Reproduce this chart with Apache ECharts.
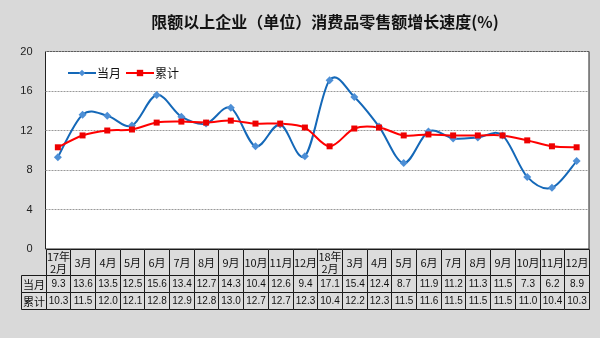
<!DOCTYPE html>
<html>
<head>
<meta charset="utf-8">
<script src="https://cdn.jsdelivr.net/npm/echarts@6/dist/echarts.min.js"></script>
<style>
  html, body { margin: 0; padding: 0; background: #d9d9d9; }
  #chart { width: 600px; height: 338px; }
</style>
</head>
<body>
<div id="chart"></div>
<script>
// Months shown along the x axis / table header
const months = ['17年\n2月', '3月', '4月', '5月', '6月', '7月', '8月', '9月', '10月', '11月', '12月',
                '18年\n2月', '3月', '4月', '5月', '6月', '7月', '8月', '9月', '10月', '11月', '12月'];
// Monthly growth (当月) and cumulative growth (累计), %
const monthly = [9.3, 13.6, 13.5, 12.5, 15.6, 13.4, 12.7, 14.3, 10.4, 12.6, 9.4,
                 17.1, 15.4, 12.4, 8.7, 11.9, 11.2, 11.3, 11.5, 7.3, 6.2, 8.9];
const cumulative = [10.3, 11.5, 12.0, 12.1, 12.8, 12.9, 12.8, 13.0, 12.7, 12.7, 12.3,
                    10.4, 12.2, 12.3, 11.5, 11.6, 11.5, 11.5, 11.5, 11.0, 10.4, 10.3];
const seriesNames = ['当月', '累计'];
const yTicks = { min: 0, max: 20, interval: 4 };

const blue = '#1468b8', blueMarker = '#4d8fd6', red = '#ff0000';

// Data table beneath the plot: header row + one row per series
const tableCols = [''].concat(months);
const tableCells = [];
months.forEach((m, i) => tableCells.push([i + 1, 0, m]));
tableCells.push([0, 1, seriesNames[0]]);
tableCells.push([0, 2, seriesNames[1]]);
monthly.forEach((v, i) => tableCells.push([i + 1, 1, v.toFixed(1)]));
cumulative.forEach((v, i) => tableCells.push([i + 1, 2, v.toFixed(1)]));
const rowEdges = [0, 26, 43, 60];

const cjk = '"Noto Sans CJK SC", "Noto Sans", sans-serif';

// Smooth curve through the points, one cubic segment per item (Catmull-Rom style tangents)
function curveSeries(values, color) {
  const segs = values.slice(0, -1).map((v, i) => [i, v]);
  return {
    type: 'custom', xAxisIndex: 0, yAxisIndex: 0, silent: true, z: 2,
    data: segs,
    encode: { x: 0, y: 1 },
    renderItem: function (params, api) {
      const i = params.dataIndex;
      const n = values.length;
      const p = k => api.coord([Math.max(0, Math.min(n - 1, k)), values[Math.max(0, Math.min(n - 1, k))]]);
      const p0 = p(i - 1), p1 = p(i), p2 = p(i + 1), p3 = p(i + 2);
      return {
        type: 'bezierCurve',
        shape: {
          x1: p1[0], y1: p1[1], x2: p2[0], y2: p2[1],
          cpx1: p1[0] + (p2[0] - p0[0]) / 6, cpy1: p1[1] + (p2[1] - p0[1]) / 6,
          cpx2: p2[0] - (p3[0] - p1[0]) / 6, cpy2: p2[1] - (p3[1] - p1[1]) / 6
        },
        style: { stroke: color, lineWidth: 2, fill: null, lineCap: 'round' }
      };
    }
  };
}

const chart = echarts.init(document.getElementById('chart'));
chart.setOption({
  backgroundColor: '#d9d9d9',
  animation: false,
  title: {
    text: '限额以上企业（单位）消费品零售额增长速度(%)',
    left: 320, top: 9, textAlign: 'center',
    textStyle: { fontFamily: cjk, fontSize: 16, fontWeight: 'bold', color: '#111' }
  },
  legend: {
    left: 67, top: 67, padding: 0,
    itemWidth: 28, itemHeight: 8, itemGap: 4,
    textStyle: { fontFamily: cjk, fontSize: 12, color: '#111', padding: [0, 0, 0, -4] },
    data: [
      { name: seriesNames[0], lineStyle: { color: blue, width: 2, opacity: 1 } },
      { name: seriesNames[1], lineStyle: { color: red, width: 2, opacity: 1 } }
    ]
  },
  grid: [
    { left: 45.5, right: 11, top: 51.5, bottom: 89, show: true, backgroundColor: '#fff',
      borderColor: '#222', borderWidth: 1 },
    { left: 20.8, right: 11, top: 249, height: 60 }
  ],
  xAxis: [
    { type: 'category', data: months, gridIndex: 0, boundaryGap: true,
      axisLine: { show: false }, axisTick: { show: false }, axisLabel: { show: false } },
    { type: 'category', data: tableCols, gridIndex: 1, boundaryGap: true, show: false }
  ],
  yAxis: [
    { type: 'value', gridIndex: 0, min: yTicks.min, max: yTicks.max, interval: yTicks.interval,
      axisLine: { show: false }, axisTick: { show: false },
      axisLabel: { margin: 13, fontSize: 11, color: '#222', fontFamily: 'Liberation Sans, Arial, sans-serif' },
      splitLine: { lineStyle: { color: '#999', type: [2, 1], width: 1 } } },
    { type: 'value', gridIndex: 1, min: 0, max: 60, inverse: true, show: false }
  ],
  series: [
    {
      name: seriesNames[0], type: 'line', data: monthly,
      symbol: 'diamond', symbolSize: 8, z: 3,
      lineStyle: { color: blue, width: 2, opacity: 0 },
      itemStyle: { color: blueMarker, borderWidth: 0 }
    },
    {
      name: seriesNames[1], type: 'line', data: cumulative,
      symbol: 'rect', symbolSize: 6, z: 4,
      lineStyle: { color: red, width: 2, opacity: 0 },
      itemStyle: { color: '#ee0000', borderWidth: 0 }
    },
    curveSeries(monthly, blue),
    curveSeries(cumulative, red),
    {
      type: 'custom', xAxisIndex: 1, yAxisIndex: 1, silent: true,
      data: tableCells,
      renderItem: function (params, api) {
        const col = api.value(0), row = api.value(1);
        const text = tableCells[params.dataIndex][2];
        const w = api.size([1, 0])[0];
        const cx = api.coord([col, 0])[0];
        const y0 = api.coord([col, rowEdges[row]])[1];
        const y1 = api.coord([col, rowEdges[row + 1]])[1];
        const x0 = Math.round(cx - w / 2) + 0.5;
        const x1 = Math.round(cx + w / 2) + 0.5;
        const ya = Math.round(y0) + 0.5, yb = Math.round(y1) + 0.5;
        const isHead = row === 0 || col === 0;
        return {
          type: 'group',
          children: [
            { type: 'rect', shape: { x: x0, y: ya, width: x1 - x0, height: yb - ya },
              style: { fill: '#dcdcdc', stroke: '#1a1a1a', lineWidth: 1 } },
            { type: 'text',
              style: { text: text, x: (x0 + x1) / 2, y: (ya + yb) / 2 + 0.5,
                       align: 'center', verticalAlign: 'middle',
                       font: (isHead ? '11px ' + cjk : '10px "Liberation Sans", Arial, sans-serif'),
                       lineHeight: 12, fill: '#111' } }
          ]
        };
      }
    }
  ]
});
</script>
</body>
</html>
